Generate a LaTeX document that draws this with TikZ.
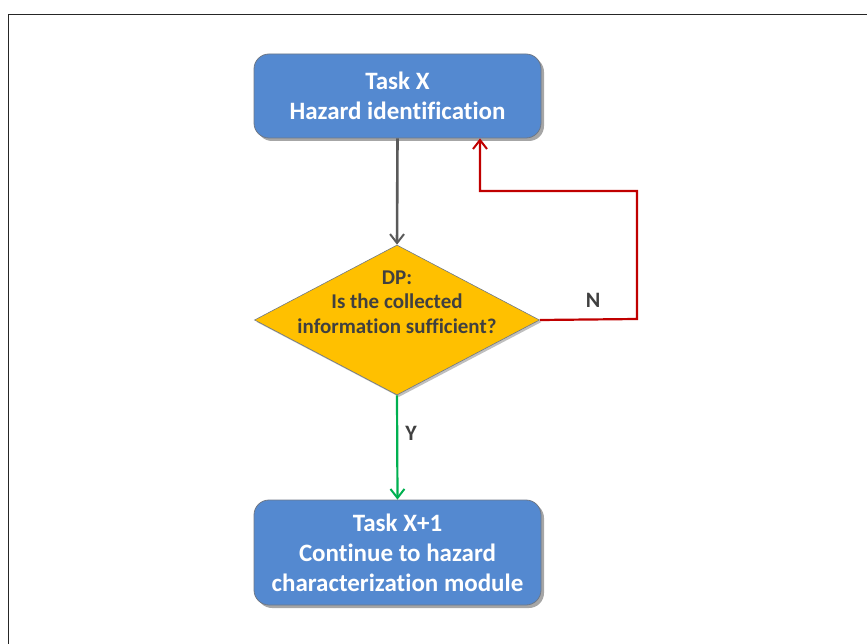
\documentclass[tikz,border=0pt]{standalone}
\usepackage{fontspec}
\setmainfont{Carlito}[Ligatures=CommonOff]
\usetikzlibrary{arrows.meta,shapes.geometric,shadows,calc}
\definecolor{taskblue}{RGB}{84,137,208}
\definecolor{taskedge}{RGB}{110,120,135}
\definecolor{dpgold}{RGB}{255,192,0}
\definecolor{dptext}{RGB}{64,64,64}
\definecolor{noline}{RGB}{192,0,0}
\definecolor{yesline}{RGB}{0,176,80}
\definecolor{flowgray}{RGB}{90,90,90}
\begin{document}
\begin{tikzpicture}[x=1pt,y=-1pt,
  taskbox/.style={rectangle, rounded corners=15pt, draw=taskedge, line width=0.8pt,
    fill=taskblue, text=white, font=\fontsize{25}{30}\selectfont\bfseries,
    align=center, minimum width=287pt, inner sep=0pt,
    drop shadow={shadow xshift=3pt, shadow yshift=-3pt, opacity=0.35, fill=black}},
  decision/.style={diamond, draw=taskedge, line width=0.6pt, fill=dpgold,
    minimum width=285pt, minimum height=150pt, inner sep=0pt,
    drop shadow={shadow xshift=2pt, shadow yshift=-2pt, opacity=0.25, fill=black}},
  dptxt/.style={text=dptext, font=\fontsize{21}{24.5}\selectfont\bfseries,
    align=center, inner sep=0pt},
  flow/.style={line width=2.6pt, -{Straight Barb[length=9pt,width=14pt,line width=2pt]}},
  lbl/.style={text=dptext, font=\fontsize{22}{26}\selectfont\bfseries}
]
\useasboundingbox (0,0) rectangle (867,644);
% outer frame
\draw[line width=1.8pt, black!85] (8.5,644) -- (8.5,14.5) -- (867,14.5);

% nodes
\node[taskbox, minimum height=84pt] (tx) at (397.5,96) {Task X\\Hazard identification};
\node[decision] (dp) at (397,320) {};
\node[dptxt] (dpq) at (397,302) {DP:\\Is the collected\\information sufficient?};
\node[taskbox, minimum height=105pt] (tn) at (397.5,552.5) {Task X+1\\Continue to hazard\\characterization module};

% connectors
\draw[flow, draw=flowgray] (tx.south) -- (dp.north);
\draw[flow, draw=yesline, line width=2.2pt] (dp.south) -- (tn.north);
\coordinate (nr) at (637,319);
\coordinate (nt) at (637,191);
\coordinate (nl) at (480,191);
\draw[flow, draw=noline, line width=2.2pt] (dp.east) -- (nr) -- (nt) -- (nl) -- (nl |- tx.south);

% branch labels
\node[lbl] (nlab) at (593,300) {N};
\node[lbl] (ylab) at (411,433) {Y};
\end{tikzpicture}
\end{document}
